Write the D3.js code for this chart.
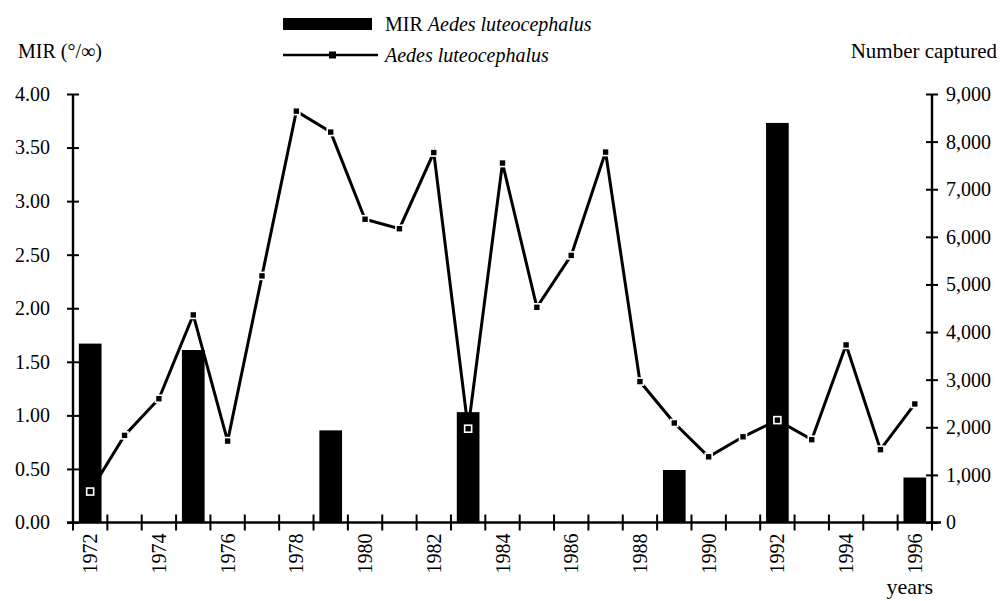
<!DOCTYPE html>
<html><head><meta charset="utf-8">
<script src="https://cdn.jsdelivr.net/npm/d3@7"></script>
<style>
html,body{margin:0;padding:0;background:#fff;}
svg text{font-family:"Liberation Serif","Times New Roman",serif;fill:#000;}
</style></head>
<body><svg id="chart" width="1000" height="601"></svg>
<script>
const years = [1972,1973,1974,1975,1976,1977,1978,1979,1980,1981,1982,1983,1984,1985,1986,1987,1988,1989,1990,1991,1992,1993,1994,1995,1996];
const captured = [650,1830,2600,4360,1710,5180,8640,8200,6370,6170,7770,1970,7550,4520,5610,7780,2960,2090,1380,1800,2150,1740,3730,1530,2490];
const barYears = [1972,1975,1979,1983,1989,1992,1996];
const mirValues = [1.67,1.61,0.86,1.03,0.49,3.73,0.42];
const leftTicks = [0,0.5,1,1.5,2,2.5,3,3.5,4];
const rightTicks = [0,1000,2000,3000,4000,5000,6000,7000,8000,9000];
const labelYears = [1972,1974,1976,1978,1980,1982,1984,1986,1988,1990,1992,1994,1996];

const svg = d3.select("#chart");
const L = 73, R = 932, T = 94, B = 522.5;

const x = d3.scaleBand().domain(years).range([L, R]).padding(0);
const xb = d3.scaleBand().domain(years).range([L, R]).paddingInner(0.34).paddingOuter(0.17);
const yL = d3.scaleLinear().domain([0,4]).range([B, T]);
const yR = d3.scaleLinear().domain([0,9000]).range([B, T]);

// bars
svg.append("g").selectAll("rect").data(barYears).join("rect")
  .attr("x", (d)=>xb(d)).attr("width", xb.bandwidth())
  .attr("y", (d,i)=>yL(mirValues[i])).attr("height", (d,i)=>B - yL(mirValues[i]))
  .attr("fill", "#000");

// line
const cx = d => x(d) + x.bandwidth()/2;
svg.append("path").datum(years)
  .attr("fill","none").attr("stroke","#000").attr("stroke-width",3)
  .attr("d", d3.line().x(d=>cx(d)).y((d,i)=>yR(captured[i])));
svg.append("g").selectAll("rect").data(years).join("rect")
  .attr("x", d=>cx(d)-3.5).attr("y", (d,i)=>yR(captured[i])-3.5)
  .attr("width",7).attr("height",7)
  .attr("fill","#000").attr("stroke","#fff").attr("stroke-width",1.6);

// left axis
const gl = svg.append("g").attr("transform",`translate(${L},0)`);
gl.call(d3.axisLeft(yL).tickValues(leftTicks).tickFormat(d3.format(".2f")).tickSize(6).tickPadding(17));
gl.select(".domain").remove();
gl.append("line").attr("x1",0).attr("x2",0).attr("y1",T).attr("y2",B).attr("stroke","#000").attr("stroke-width",2.4);
gl.selectAll(".tick line").attr("x1",-6).attr("x2",6).attr("stroke-width",2);
gl.selectAll(".tick text").attr("font-size",20).attr("font-family","Liberation Serif");

// right axis
const gr = svg.append("g").attr("transform",`translate(${R},0)`);
gr.call(d3.axisRight(yR).tickValues(rightTicks).tickFormat(d3.format(",")).tickSize(6).tickPadding(8));
gr.select(".domain").remove();
gr.append("line").attr("x1",0).attr("x2",0).attr("y1",T).attr("y2",B).attr("stroke","#000").attr("stroke-width",2.4);
gr.selectAll(".tick line").attr("x1",-6).attr("x2",6).attr("stroke-width",2);
gr.selectAll(".tick text").attr("font-size",20).attr("font-family","Liberation Serif");

// bottom axis
const gb = svg.append("g").attr("transform",`translate(0,${B})`);
gb.append("line").attr("x1",L-6).attr("x2",R+9).attr("y1",0).attr("y2",0).attr("stroke","#000").attr("stroke-width",2.6);
const bounds = years.map(d=>x(d)).concat([R]);
gb.selectAll("line.tk").data(bounds).join("line").attr("class","tk")
  .attr("x1",d=>d).attr("x2",d=>d).attr("y1",-8).attr("y2",8).attr("stroke","#000").attr("stroke-width",2);
gb.selectAll("text").data(labelYears).join("text")
  .attr("transform", d=>`translate(${cx(d)+7},${11}) rotate(-90)`)
  .attr("text-anchor","end").attr("font-size",20).attr("font-family","Liberation Serif")
  .text(d=>d);

// axis titles
svg.append("text").attr("x",18).attr("y",58).attr("font-size",20).text("MIR (°/∞)");
svg.append("text").attr("x",997).attr("y",58).attr("text-anchor","end").attr("font-size",21).text("Number captured");
svg.append("text").attr("x",933).attr("y",594).attr("text-anchor","end").attr("font-size",22).text("years");

// legend
svg.append("rect").attr("x",283).attr("y",18).attr("width",89).attr("height",12).attr("fill","#000");
const t1 = svg.append("text").attr("x",385).attr("y",31).attr("font-size",20);
t1.append("tspan").text("MIR ");
t1.append("tspan").attr("font-style","italic").text("Aedes luteocephalus");
svg.append("line").attr("x1",283).attr("x2",378).attr("y1",55).attr("y2",55).attr("stroke","#000").attr("stroke-width",2.6);
svg.append("rect").attr("x",329).attr("y",51.5).attr("width",7).attr("height",7).attr("fill","#000");
svg.append("text").attr("x",385).attr("y",62).attr("font-size",20).attr("font-style","italic").text("Aedes luteocephalus");
</script></body></html>
